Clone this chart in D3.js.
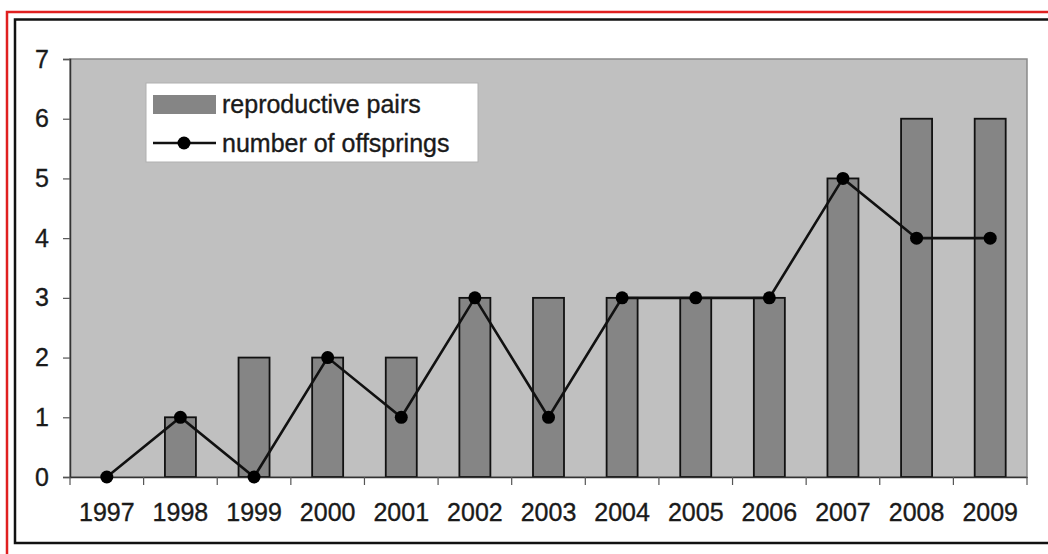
<!DOCTYPE html>
<html>
<head>
<meta charset="utf-8">
<script src="https://cdn.jsdelivr.net/npm/d3@7"></script>
<style>
  html, body { margin: 0; padding: 0; background: #fff; }
  svg { display: block; }
  text { font-family: "Liberation Sans", Arial, sans-serif; fill: #1a1a1a; stroke: #1a1a1a; stroke-width: 0.35px; }
</style>
</head>
<body>
<svg id="chart" width="1048" height="554"></svg>
<script>
// Years on the category axis
const years = ["1997","1998","1999","2000","2001","2002","2003","2004","2005","2006","2007","2008","2009"];
// Number of reproductive pairs per year (bars)
const pairs = [0, 1, 2, 2, 2, 3, 3, 3, 3, 3, 5, 6, 6];
// Number of offsprings per year (line)
const offsprings = [0, 1, 0, 2, 1, 3, 1, 3, 3, 3, 5, 4, 4];
// Y axis tick values
const yTicks = [0, 1, 2, 3, 4, 5, 6, 7];
// Legend entries
const legendLabels = ["reproductive pairs", "number of offsprings"];

const svg = d3.select("#chart");

// Outer frames
svg.append("rect").attr("x", 7).attr("y", 12).attr("width", 1060).attr("height", 560)
  .attr("fill", "none").attr("stroke", "#e02020").attr("stroke-width", 2.5);
svg.append("rect").attr("x", 15).attr("y", 19.5).attr("width", 1050).attr("height", 523.5)
  .attr("fill", "#fff").attr("stroke", "#111").attr("stroke-width", 2.5);

const plot = { left: 70, top: 59, right: 1027, bottom: 477 };

const x = d3.scaleBand().domain(years).range([plot.left, plot.right]).paddingInner(0).paddingOuter(0);
const y = d3.scaleLinear().domain([0, 7]).range([plot.bottom, plot.top]);

// Plot area
svg.append("rect")
  .attr("x", plot.left).attr("y", plot.top)
  .attr("width", plot.right - plot.left).attr("height", plot.bottom - plot.top)
  .attr("fill", "#c0c0c0").attr("stroke", "#8a8a8a").attr("stroke-width", 1.5);

// Bars
const barW = 31;
svg.append("g").selectAll("rect")
  .data(years.map((yr, i) => ({ yr, v: pairs[i] })).filter(d => d.v > 0))
  .join("rect")
  .attr("x", d => x(d.yr) + x.bandwidth() / 2 - barW / 2)
  .attr("y", d => y(d.v))
  .attr("width", barW)
  .attr("height", d => y(0) - y(d.v))
  .attr("fill", "#858585")
  .attr("stroke", "#111")
  .attr("stroke-width", 1.8);

// Y axis
const yAxis = d3.axisLeft(y).tickValues(yTicks).tickSize(7).tickPadding(14).tickFormat(d3.format("d"));
const gy = svg.append("g").attr("transform", `translate(${plot.left},0)`).call(yAxis);
gy.select(".domain").attr("stroke", "#333").attr("stroke-width", 1.5);
gy.selectAll(".tick line").attr("stroke", "#555").attr("stroke-width", 1.2);
gy.selectAll(".tick text").attr("font-size", 25).attr("fill", "#1a1a1a")
  .style("font-family", "'Liberation Sans', Arial, sans-serif");

// X axis: ticks sit between categories
const xAxis = d3.axisBottom(x).tickSize(0).tickPadding(26);
const gx = svg.append("g").attr("transform", `translate(0,${plot.bottom})`).call(xAxis);
gx.select(".domain").attr("stroke", "#333").attr("stroke-width", 1.5);
gx.selectAll(".tick text").attr("font-size", 25).attr("fill", "#1a1a1a")
  .style("font-family", "'Liberation Sans', Arial, sans-serif");
const boundaries = years.map(d => x(d)).concat([x(years[years.length - 1]) + x.bandwidth()]);
gx.selectAll("line.sep").data(boundaries).join("line").attr("class", "sep")
  .attr("x1", d => d).attr("x2", d => d).attr("y1", 0).attr("y2", 8)
  .attr("stroke", "#555").attr("stroke-width", 1.2);

// Offspring line
const cx = (i) => x(years[i]) + x.bandwidth() / 2;
const line = d3.line().x((d, i) => cx(i)).y(d => y(d));
svg.append("path").datum(offsprings).attr("d", line)
  .attr("fill", "none").attr("stroke", "#111").attr("stroke-width", 2.6);
svg.append("g").selectAll("circle").data(offsprings).join("circle")
  .attr("cx", (d, i) => cx(i)).attr("cy", d => y(d)).attr("r", 6.5).attr("fill", "#000");

// Legend
const lg = svg.append("g");
lg.append("rect").attr("x", 146).attr("y", 83).attr("width", 332).attr("height", 79)
  .attr("fill", "#fff").attr("stroke", "#b0b0b0").attr("stroke-width", 1);
lg.append("rect").attr("x", 153).attr("y", 95).attr("width", 63).attr("height", 19)
  .attr("fill", "#858585");
lg.append("text").attr("x", 222).attr("y", 113).attr("font-size", 25).text(legendLabels[0]);
lg.append("line").attr("x1", 153).attr("x2", 216).attr("y1", 143).attr("y2", 143)
  .attr("stroke", "#111").attr("stroke-width", 2.6);
lg.append("circle").attr("cx", 184).attr("cy", 143).attr("r", 6.5).attr("fill", "#000");
lg.append("text").attr("x", 222).attr("y", 152).attr("font-size", 25).text(legendLabels[1]);
</script>
</body>
</html>
